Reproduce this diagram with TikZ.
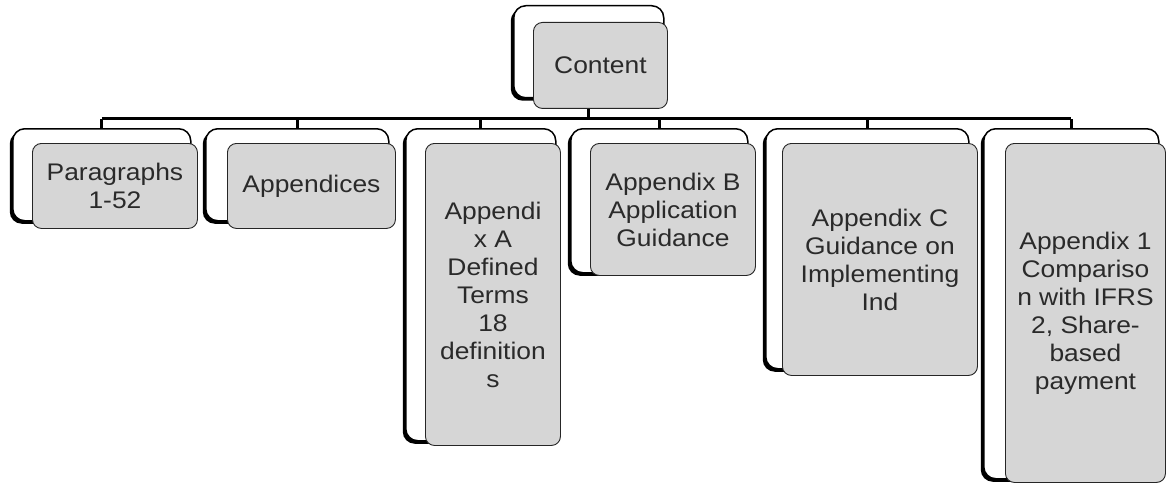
\documentclass[tikz,border=0pt]{standalone}
\usepackage{fontspec}
\setmainfont{Liberation Sans}[FakeStretch=1.1]
\usetikzlibrary{shadows}
\pgfdeclarelayer{background}
\pgfsetlayers{background,main}
\definecolor{boxgray}{HTML}{D6D6D6}
\definecolor{txtgray}{HTML}{2A2A2A}
\begin{document}
\begin{tikzpicture}[x=1pt,y=-1pt,
  backbox/.style={draw=black, line width=1.5pt, fill=white, rounded corners=12pt, inner sep=0pt, anchor=north west,
    drop shadow={shadow xshift=-3pt, shadow yshift=-3pt, fill=black, opacity=1}},
  frontbox/.style={draw=black!85, line width=0.9pt, fill=boxgray, rounded corners=9pt, inner sep=0pt, anchor=north west,
    align=center, text=txtgray, font=\fontsize{24}{28}\selectfont},
  conn/.style={draw=black, line width=3pt}]
\useasboundingbox (0,0) rectangle (1166,484);
% Content
\node[backbox, minimum width=150pt, minimum height=92pt] (cb) at (513,5) {};
\node[frontbox, minimum width=134pt, minimum height=86pt] (cf) at (533,22) {Content};
% Paragraphs
\node[backbox, minimum width=178pt, minimum height=92pt] (pb) at (12,128) {};
\node[frontbox, minimum width=165pt, minimum height=85pt] (pf) at (32,143) {Paragraphs\\1-52};
% Appendices
\node[backbox, minimum width=183pt, minimum height=92pt] (xb) at (205,128) {};
\node[frontbox, minimum width=168pt, minimum height=85pt] (xf) at (227,143) {Appendices};
% Appendix A
\node[backbox, minimum width=150pt, minimum height=312pt] (ab) at (405,128) {};
\node[frontbox, minimum width=135pt, minimum height=302pt] (af) at (425,143) {Appendi\\x A\\Defined\\Terms\\18\\definition\\s};
% Appendix B
\node[backbox, minimum width=177pt, minimum height=144pt] (bb) at (570,128) {};
\node[frontbox, minimum width=165pt, minimum height=132pt] (bf) at (590,143) {Appendix B\\Application\\Guidance};
% Appendix C
\node[backbox, minimum width=203pt, minimum height=240pt] (ccb) at (765,128) {};
\node[frontbox, minimum width=195pt, minimum height=232pt] (ccf) at (782,143) {Appendix C\\Guidance on\\Implementing\\Ind};
% Appendix 1
\node[backbox, minimum width=175pt, minimum height=350pt] (ob) at (983,128) {};
\node[frontbox, minimum width=160pt, minimum height=339pt] (of) at (1005,143) {Appendix 1\\Compariso\\n with IFRS\\2, Share-\\based\\payment};
\coordinate (bus) at (0,119);
\begin{pgfonlayer}{background}
\draw[conn] (cb.south) -- (cb.south |- bus);
\draw[conn] (pb.north |- bus) -- (ob.north |- bus);
\foreach \n in {pb,xb,ab,bb,ccb,ob} \draw[conn] (\n.north) -- (\n.north |- bus);
\end{pgfonlayer}
\end{tikzpicture}
\end{document}
